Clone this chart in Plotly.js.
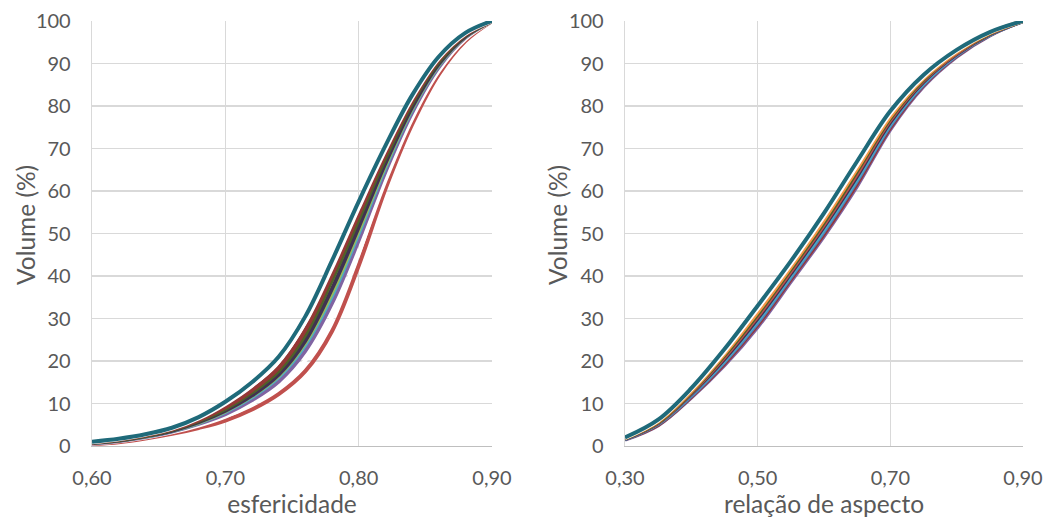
<!DOCTYPE html>
<html><head><meta charset="utf-8">
<script src="https://cdn.plot.ly/plotly-3.0.1.min.js"></script>
<style>html,body{margin:0;padding:0;background:#fff}#chart{width:1049px;height:518px}</style>
</head><body><div id="chart"></div>
<script>
// ---- Left panel: esfericidade (x) vs cumulative volume (%)
const xEsf = [0.60,0.62,0.64,0.66,0.68,0.70,0.72,0.74,0.76,0.78,0.80,0.82,0.84,0.86,0.88,0.90];
const esfTeal       = [1.0,1.7,2.75,4.3,6.8,10.4,15.0,21.0,30.5,43.6,57.5,70.6,82.5,91.6,97.2,100];
const esfWhiteA     = [0.9,1.6,2.65,4.1,6.5,9.9,14.2,19.9,29.1,41.9,56.0,69.6,81.8,91.2,97.0,100];
const esfDarkRed    = [0.8,1.5,2.5,3.9,6.1,9.1,13.1,18.4,27.3,40.3,54.5,68.6,81.1,90.8,96.8,100];
const esfOlive      = [0.8,1.4,2.4,3.8,5.9,8.7,12.6,17.7,26.2,39.0,53.3,67.7,80.6,90.4,96.7,100];
const esfDarkPurple = [0.7,1.3,2.3,3.6,5.6,8.3,11.9,16.8,24.8,37.0,51.5,66.5,79.7,89.9,96.4,100];
const esfGreen      = [0.7,1.3,2.3,3.6,5.5,8.2,11.8,16.6,24.4,36.1,50.7,66.0,79.4,89.7,96.3,100];
const esfCyan       = [0.7,1.3,2.2,3.5,5.4,8.0,11.5,16.2,23.8,35.3,50.0,65.5,79.1,89.5,96.3,100];
const esfPurple     = [0.6,1.2,2.1,3.4,5.2,7.5,10.8,15.2,22.4,33.6,48.4,64.5,78.4,89.1,96.1,100];
const esfWhiteB     = [0.5,1.1,2.0,3.2,4.8,6.9,9.9,14.0,20.2,30.3,45.4,62.4,77.0,88.2,95.7,100];
const esfRed        = [0.4,0.9,1.75,2.85,4.25,6.0,8.6,12.2,17.6,27.0,42.4,60.4,75.6,87.4,95.3,100];

// ---- Right panel: relação de aspecto (x) vs cumulative volume (%)
const xAsp = [0.30,0.35,0.40,0.45,0.50,0.55,0.60,0.65,0.70,0.75,0.80,0.85,0.90];
const aspTeal       = [2.0,6.2,13.6,22.8,33.0,43.5,54.8,67.0,78.8,87.3,93.2,97.4,100];
const aspWhite      = [1.9,6.0,13.3,22.2,32.3,42.8,54.0,66.1,78.2,86.9,93.0,97.3,100];
const aspOrange     = [1.9,5.8,12.9,21.7,31.5,42.1,53.2,65.3,77.5,86.5,92.7,97.2,100];
const aspOlive      = [1.8,5.6,12.7,21.3,31.0,41.6,52.6,64.7,77.1,86.2,92.6,97.1,100];
const aspRed        = [1.8,5.5,12.5,20.9,30.5,41.1,52.1,64.1,76.7,86.0,92.4,97.0,100];
const aspDarkPurple = [1.7,5.4,12.3,20.5,30.0,40.6,51.6,63.5,76.2,85.7,92.2,96.9,100];
const aspCyan       = [1.7,5.3,12.1,20.1,29.5,40.1,51.0,62.9,75.8,85.4,92.1,96.8,100];
const aspBlue       = [1.6,5.2,11.8,19.8,29.0,39.7,50.5,62.4,75.4,85.1,91.9,96.8,100];
const aspDarkRed    = [1.6,5.0,11.6,19.4,28.5,39.2,49.9,61.8,74.9,84.9,91.8,96.7,100];
const aspPurple     = [1.5,4.9,11.4,19.0,28.0,38.7,49.4,61.2,74.5,84.6,91.6,96.6,100];

const yTicks = [0,10,20,30,40,50,60,70,80,90,100];
const esfTicks = [0.60,0.70,0.80,0.90];
const aspTicks = [0.30,0.50,0.70,0.90];
const xTitles = ['esfericidade','relação de aspecto'];
const yTitle = 'Volume (%)';

const C = {teal:'#1f6a7a', white:'#ffffff', darkred:'#953735', olive:'#4f6228', darkpurple:'#403152',
  green:'#9bbb59', cyan:'#4bacc6', blue:'#4f81bd', purple:'#8064a2', red:'#c0504d', orange:'#f79646'};

// drawing order: back to front
const leftSeries = [
  [esfRed,'red'],[esfWhiteB,'white'],[esfPurple,'purple'],[esfCyan,'cyan'],
  [esfGreen,'green'],[esfDarkPurple,'darkpurple'],[esfOlive,'olive'],[esfDarkRed,'darkred'],
  [esfWhiteA,'white'],[esfTeal,'teal']
];
const rightSeries = [
  [aspPurple,'purple'],[aspDarkRed,'darkred'],[aspBlue,'blue'],[aspCyan,'cyan'],[aspDarkPurple,'darkpurple'],
  [aspRed,'red'],[aspOlive,'olive'],[aspOrange,'orange'],[aspWhite,'white'],[aspTeal,'teal']
];

const traces = [];
leftSeries.forEach(([y,c])=>traces.push({x:xEsf,y:y,type:'scatter',mode:'lines',
  line:{color:C[c],width:4,shape:'spline',smoothing:1},xaxis:'x',yaxis:'y',hoverinfo:'skip'}));
rightSeries.forEach(([y,c])=>traces.push({x:xAsp,y:y,type:'scatter',mode:'lines',
  line:{color:C[c],width:4,shape:'spline',smoothing:1},xaxis:'x2',yaxis:'y2',hoverinfo:'skip'}));

const tickFont = {family:'Lato, Carlito, "Liberation Sans", sans-serif', size:20, color:'#595959'};
const titleFont = {family:'Lato, Carlito, "Liberation Sans", sans-serif', size:24.5, color:'#595959'};
const gridc = '#d9d9d9';
function xax(range, ticks, title, dom, anchor){
  return {domain:dom, anchor:anchor, range:range, tickvals:ticks, tickformat:'.2f',
    showgrid:true, gridcolor:gridc, gridwidth:1.3, zeroline:false,
    showline:true, linecolor:'#bfbfbf', linewidth:1.3, ticks:'', ticklabelstandoff:14,
    tickfont:tickFont, title:{text:title, font:titleFont, standoff:0}, fixedrange:true};
}
function yax(anchor){
  return {domain:[0,1], anchor:anchor, range:[0,100], tickvals:yTicks,
    showgrid:true, gridcolor:gridc, gridwidth:1.3, zeroline:false,
    showline:true, linecolor:'#d9d9d9', linewidth:1.3, ticks:'', ticklabelstandoff:16,
    tickfont:tickFont, fixedrange:true};
}
const layout = {
  width:1049, height:518, showlegend:false, separators:',.',
  paper_bgcolor:'#ffffff', plot_bgcolor:'#ffffff',
  margin:{l:92, r:26, t:21, b:72},
  xaxis: xax([0.60,0.90], esfTicks, xTitles[0], [0, 400/931], 'y'),
  yaxis: yax('x'),
  xaxis2: xax([0.30,0.90], aspTicks, xTitles[1], [533/931, 1], 'y2'),
  yaxis2: yax('x2'),
  annotations: [
    {text:yTitle, textangle:-90, xref:'paper', yref:'paper', x:(25-92)/931, y:(446-225)/425,
     xanchor:'center', yanchor:'middle', showarrow:false, font:titleFont},
    {text:yTitle, textangle:-90, xref:'paper', yref:'paper', x:(557-92)/931, y:(446-225)/425,
     xanchor:'center', yanchor:'middle', showarrow:false, font:titleFont}
  ],
  font: tickFont
};
Plotly.newPlot('chart', traces, layout, {displayModeBar:false, staticPlot:true});
</script></body></html>
